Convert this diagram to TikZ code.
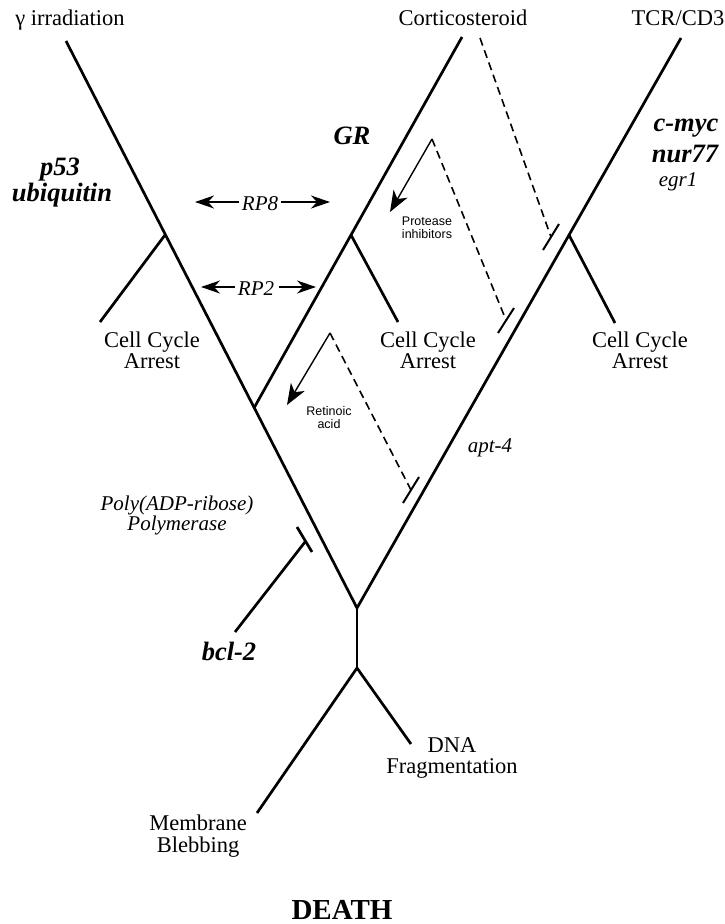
\documentclass[tikz,border=0pt]{standalone}
\usepackage{fontspec}
\setmainfont{Liberation Serif}
\newfontfamily\smallsans{Liberation Sans}
\usetikzlibrary{arrows.meta}
\begin{document}
\begin{tikzpicture}[x=1pt,y=-1pt,
  main/.style={line width=2.7pt},
  inhib/.style={line width=1.6pt, dash pattern=on 8pt off 5pt},
  barline/.style={line width=2pt},
  thinarrow/.style={line width=1.4pt, -{Stealth[length=21pt,width=16pt,inset=6pt]}},
  rparrow/.style={line width=1.7pt, -{Stealth[length=19pt,width=13pt,inset=6pt]}},
  lbl/.style={inner sep=0pt, anchor=base, font=\fontsize{22.5}{24}\selectfont},
  bi/.style={inner sep=0pt, anchor=base, font=\bfseries\itshape\fontsize{26.5}{27}\selectfont},
  it/.style={inner sep=0pt, anchor=base, font=\itshape\fontsize{21}{22}\selectfont},
  small/.style={inner sep=0pt, anchor=base, font=\smallsans\fontsize{12.5}{13}\selectfont},
  death/.style={inner sep=0pt, anchor=base, font=\bfseries\fontsize{29}{29}\selectfont}]
\useasboundingbox (0,0) rectangle (725,924);

% main pathway coordinates
\coordinate (gtop) at (66,41);
\coordinate (ctop) at (462,37);
\coordinate (ttop) at (681,38);
\coordinate (v) at (357,608);
\coordinate (jl) at (254,408);
\coordinate (bl) at (165,235);
\coordinate (bm) at (351,235);
\coordinate (br) at (569,235);
\coordinate (el) at (100,322);
\coordinate (em) at (398,322);
\coordinate (er) at (615,323);
\coordinate (v2) at (357,668);
\coordinate (mb) at (257,813);
\coordinate (dn) at (411,744);

\draw[main] (gtop) -- (v);
\draw[main] (ttop) -- (v);
\draw[main] (ctop) -- (jl);
\draw[main] (bl) -- (el);
\draw[main] (bm) -- (em);
\draw[main] (br) -- (er);
\draw[main] (v) -- (v2);
\draw[main] (v2) -- (mb);
\draw[main] (v2) -- (dn);

% top labels
\node[lbl] (gi) at (70,25) {γ irradiation};
\node[lbl] (cs) at (463,25) {Corticosteroid};
\node[lbl] (tcr) at (678,25) {TCR/CD3};

% gene labels
\node[bi] (gr) at (352,144) {GR};
\node[bi] (p53) at (60,175) {p53};
\node[bi] (ubq) at (62,201) {ubiquitin};
\node[bi] (cmyc) at (686,131) {c-myc};
\node[bi] (nur) at (685,162) {nur77};
\node[it] (egr) at (678,186) {egr1};
\node[bi] (bcl) at (229,660) {bcl-2};
\node[it] (apt) at (490,452) {apt-4};
\node[it] (poly1) at (177,510) {Poly(ADP-ribose)};
\node[it] (poly2) at (177,530) {Polymerase};

% RP arrows
\node[it] (rp8) at (260,210) {RP8};
\coordinate (rp8l) at (195,202);
\coordinate (rp8r) at (330,202);
\draw[rparrow] ([xshift=-3pt,yshift=8pt]rp8.base west) -- (rp8l);
\draw[rparrow] ([xshift=3pt,yshift=8pt]rp8.base east) -- (rp8r);
\node[it] (rp2) at (256,295) {RP2};
\coordinate (rp2l) at (201,287);
\coordinate (rp2r) at (316,287);
\draw[rparrow] ([xshift=-3pt,yshift=8pt]rp2.base west) -- (rp2l);
\draw[rparrow] ([xshift=5pt,yshift=8pt]rp2.base east) -- (rp2r);

% cell cycle arrest labels
\node[lbl] (cca1) at (152,347) {Cell Cycle};
\node[lbl] (cca1b) at (152,368) {Arrest};
\node[lbl] (cca2) at (428,347) {Cell Cycle};
\node[lbl] (cca2b) at (428,368) {Arrest};
\node[lbl] (cca3) at (640,347) {Cell Cycle};
\node[lbl] (cca3b) at (640,368) {Arrest};

% outcome labels
\node[lbl] (dna1) at (452,752) {DNA};
\node[lbl] (dna2) at (452,773) {Fragmentation};
\node[lbl] (mem1) at (198,830) {Membrane};
\node[lbl] (mem2) at (198,852) {Blebbing};
\node[death] (death) at (342,919) {DEATH};

% corticosteroid inhibition of TCR path
\coordinate (d1s) at (480,38);
\coordinate (b1a) at (543,250);
\coordinate (b1b) at (559,224);
\coordinate (b1m) at (551,237);
\draw[inhib] (d1s) -- (b1m);
\draw[barline] (b1a) -- (b1b);

% protease inhibitors
\coordinate (pa) at (432,139);
\coordinate (ptip) at (390,212);
\coordinate (b2a) at (498,333);
\coordinate (b2b) at (514,308);
\coordinate (b2m) at (506,320);
\draw[thinarrow] (pa) -- (ptip);
\draw[inhib] (pa) -- (b2m);
\draw[barline] (b2a) -- (b2b);
\node[small] (pi1) at (427,225) {Protease};
\node[small] (pi2) at (427,238) {inhibitors};

% retinoic acid
\coordinate (ra) at (330,333);
\coordinate (rtip) at (287,405);
\coordinate (b3a) at (403,503);
\coordinate (b3b) at (419,477);
\coordinate (b3m) at (411,490);
\draw[thinarrow] (ra) -- (rtip);
\draw[inhib] (ra) -- (b3m);
\draw[barline] (b3a) -- (b3b);
\node[small] (ra1) at (329,415) {Retinoic};
\node[small] (ra2) at (329,428) {acid};

% bcl-2 inhibition
\coordinate (bcls) at (235,632);
\coordinate (bcle) at (305,542);
\coordinate (b4a) at (297,527);
\coordinate (b4b) at (312,552);
\draw[main] (bcls) -- (bcle);
\draw[main] (b4a) -- (b4b);
\end{tikzpicture}
\end{document}
